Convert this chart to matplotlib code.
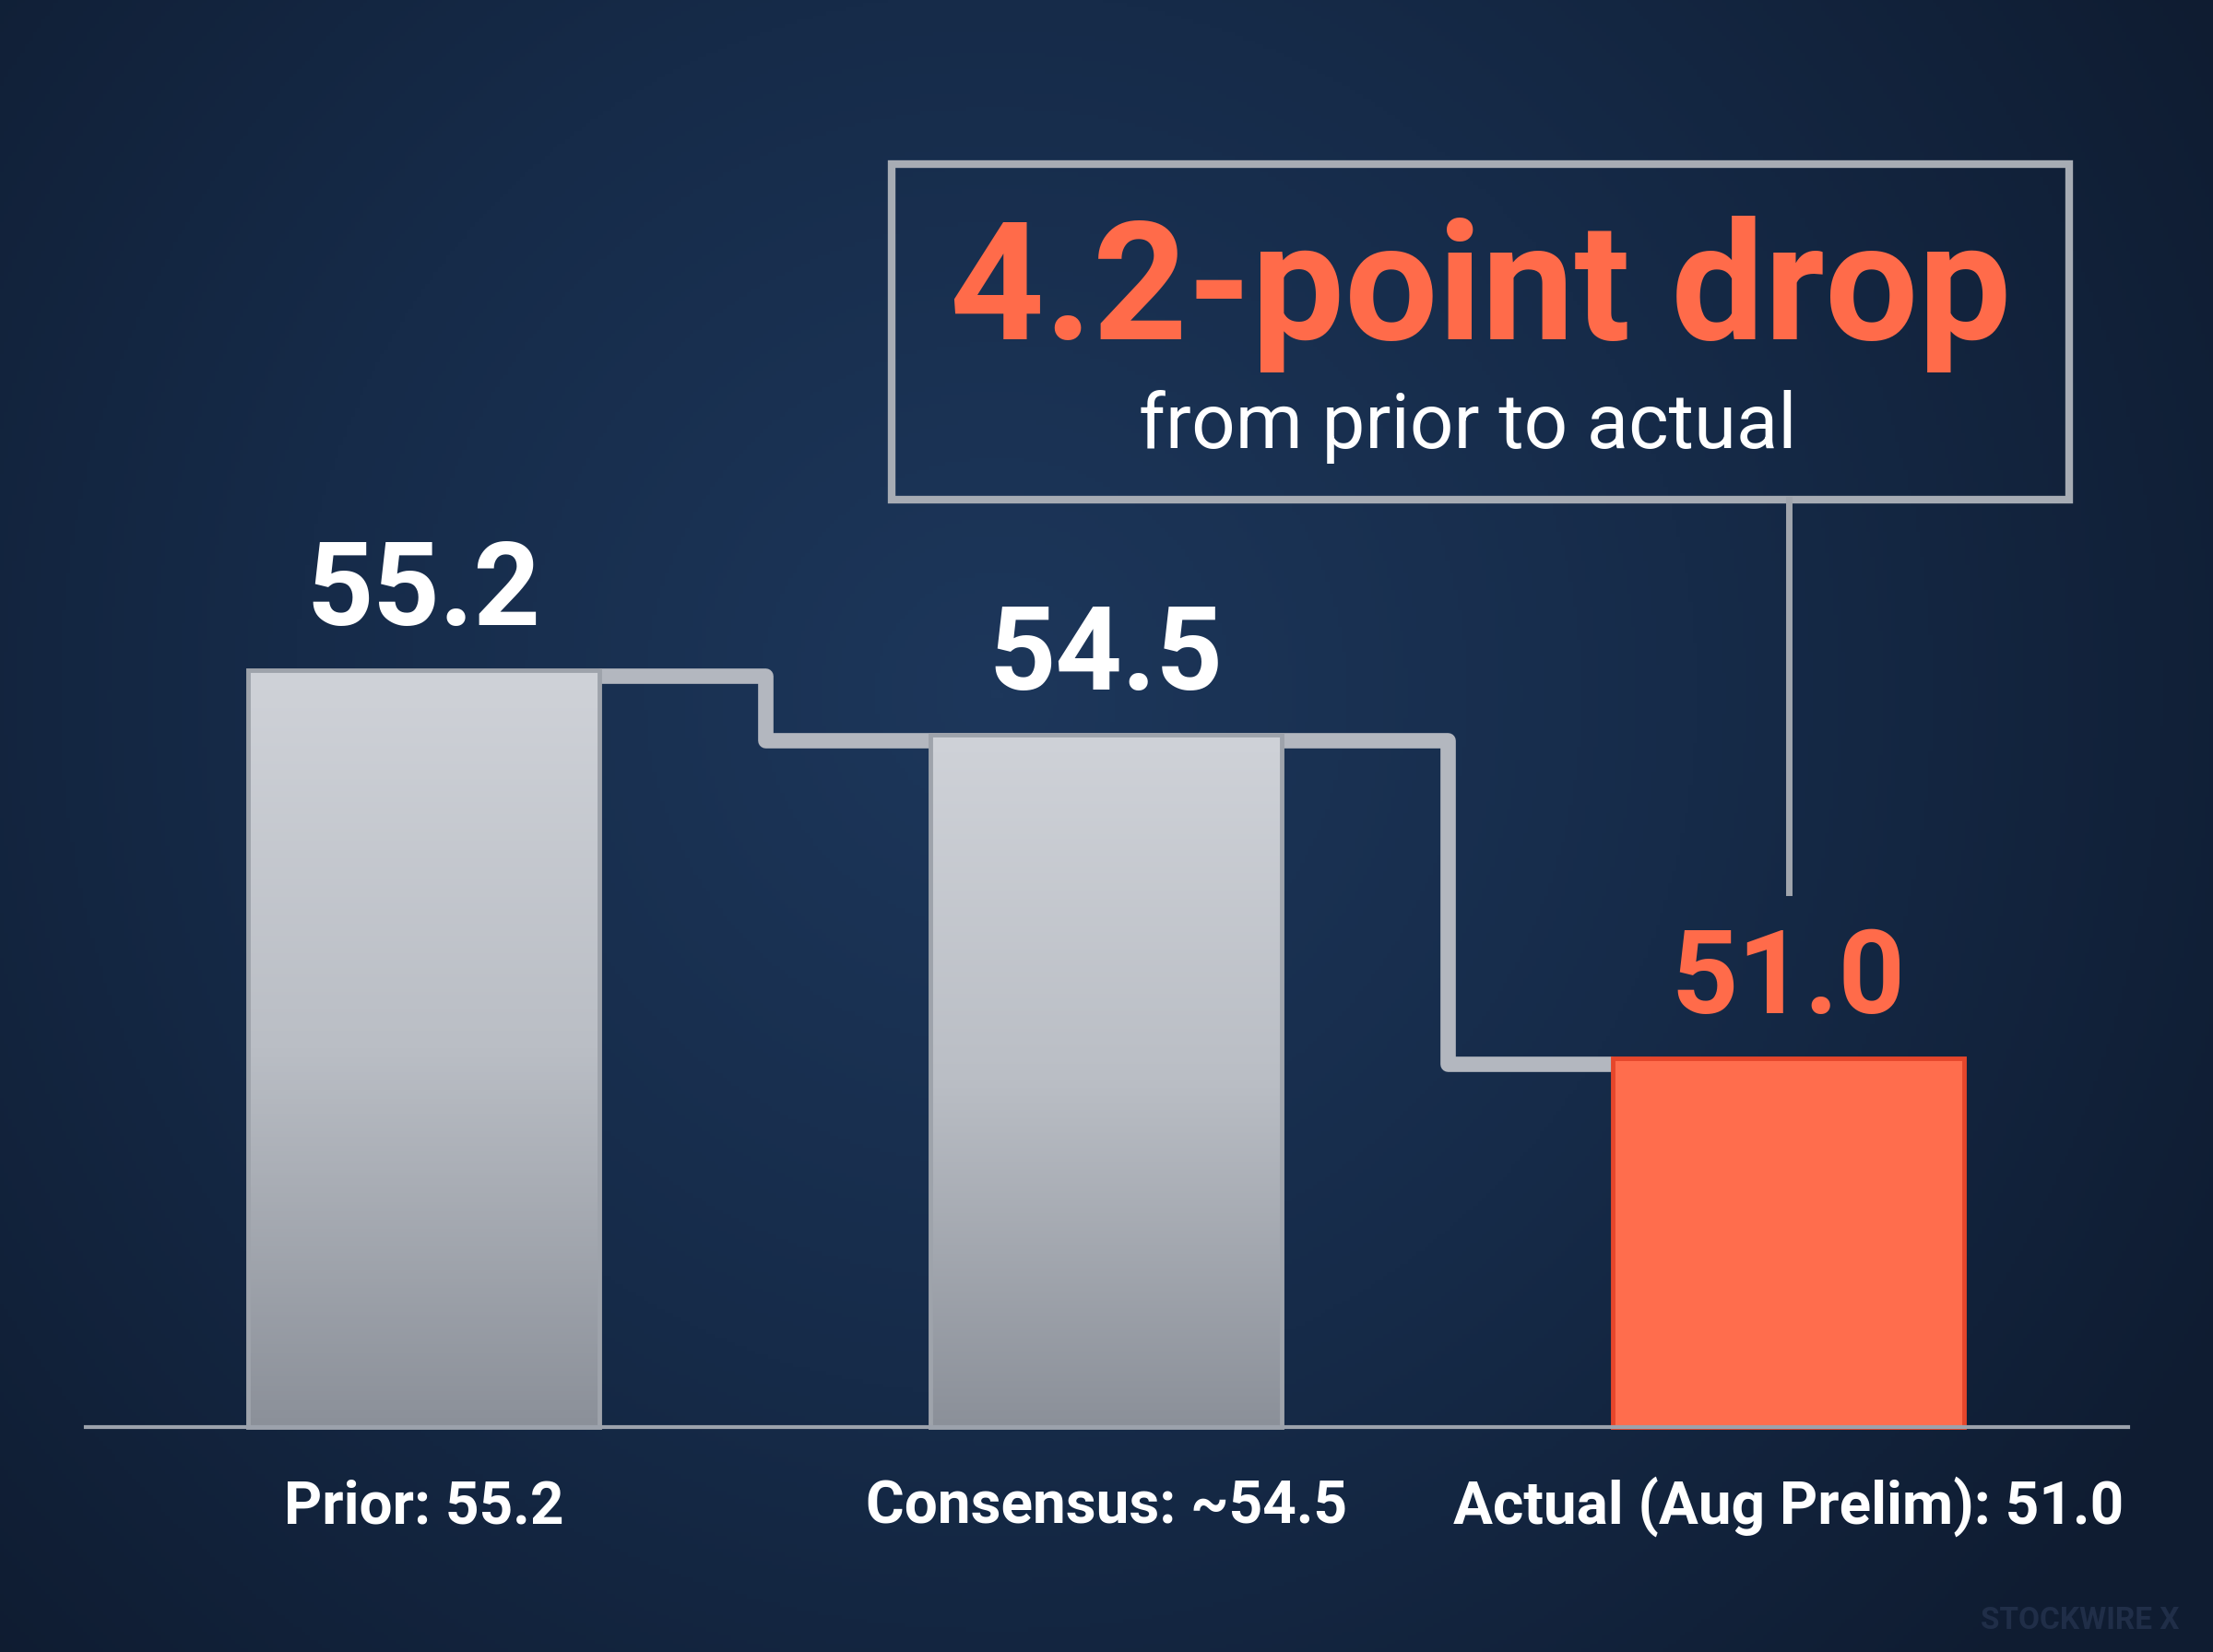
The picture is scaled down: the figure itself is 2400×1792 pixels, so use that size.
import numpy as np
import matplotlib
matplotlib.use("Agg")  # headless
import matplotlib.pyplot as plt
from matplotlib.colors import LinearSegmentedColormap

# data
categories = ["Prior: 55.2", "Consensus: ~54.5", "Actual (Aug Prelim): 51.0"]
values = [55.2, 54.5, 51.0]
value_labels = ["55.2", "54.5", "51.0"]
headline = "4.2-point drop"
subhead = "from prior to actual"
watermark = "STOCKWIRE X"

BASE = 47.0
FONT = ["Roboto", "DejaVu Sans"]
ORANGE = "#FF6B4A"

plt.rcParams["font.family"] = FONT

fig = plt.figure(figsize=(24, 17.92), dpi=100)

# background: soft radial navy gradient
bg = fig.add_axes([0, 0, 1, 1], zorder=0)
yy, xx = np.mgrid[0:1:400j, 0:1:536j]
r = np.sqrt(((xx - 0.45) * 1.34) ** 2 + (yy - 0.42) ** 2)
bg_cmap = LinearSegmentedColormap.from_list("bg", ["#1d375b", "#162b49", "#0f1c31"])
bg.imshow(r, cmap=bg_cmap, aspect="auto", extent=[0, 1, 0, 1], origin="upper",
          vmin=0, vmax=0.85)
bg.axis("off")

ax = fig.add_axes([0, 0, 1, 1], zorder=1)
ax.patch.set_alpha(0)
ax.axis("off")
ax.set_xlim(-0.621, 2.622)
ax.set_ylim(44.57, 62.45)

x = np.arange(len(values))
width = 0.515

# step connector between bar tops (drawn just under the top edge)
mids = (x[:-1] + x[1:]) / 2
off = 0.06
sx = [x[0] + width / 2, mids[0], mids[0], mids[1], mids[1], x[2] - width / 2]
sy = [values[0] - off, values[0] - off, values[1] - off, values[1] - off,
      values[2] - off, values[2] - off]
ax.plot(sx, sy, color="#b3b7bf", lw=12, solid_joinstyle="round",
        solid_capstyle="butt", zorder=2)

bars = ax.bar(x, [v - BASE for v in values], bottom=BASE, width=width,
              zorder=3, linewidth=3.5)
gray_cmap = LinearSegmentedColormap.from_list("bar", ["#cfd2d8", "#babec5", "#8b9099"])
grad = np.linspace(0, 1, 256).reshape(-1, 1)
for i, b in enumerate(bars):
    if i < 2:
        b.set_facecolor("none")
        b.set_edgecolor("#9ea3ab")
        im = ax.imshow(grad, cmap=gray_cmap, aspect="auto", origin="upper",
                       extent=[b.get_x(), b.get_x() + b.get_width(), BASE, values[i]],
                       zorder=2.5)
        im.set_clip_path(b)
    else:
        b.set_facecolor("#FF6D4D")
        b.set_edgecolor("#E6462B")

# value labels above bars
for i, (v, lab) in enumerate(zip(values, value_labels)):
    ax.annotate(lab, (x[i], v), xytext=(0, 35), textcoords="offset points",
                ha="center", va="baseline", fontsize=91, fontweight="bold",
                color=ORANGE if i == 2 else "white", zorder=6)

# category labels under the baseline
for i, cat in enumerate(categories):
    ax.annotate(cat, (x[i], BASE), xytext=(0, -75), textcoords="offset points",
                ha="center", va="baseline", fontsize=46, fontweight="bold",
                color="white", zorder=6)

ax.plot([-0.496, 2.498], [BASE, BASE], color="#9ca2ac", lw=3, zorder=5)

# callout box
box = plt.Rectangle((0.686, 57.04), 1.725, 3.63, fill=False, ec="#a7acb4",
                    lw=6, zorder=4)
ax.add_patch(box)
ax.plot([x[2], x[2]], [57.04, 52.79], color="#a0a5ad", lw=5, zorder=4)
ax.text(1.548, 58.78, headline, ha="center", va="baseline", fontsize=129,
        fontweight="bold", color=ORANGE, zorder=6)
ax.text(1.530, 57.60, subhead, ha="center", va="baseline", fontsize=60,
        color="white", zorder=6)

fig.text(0.985, 0.01, watermark, ha="right", va="bottom", fontsize=24,
         fontweight="bold", color="#202e48")

fig.savefig("out.png", dpi=100)
